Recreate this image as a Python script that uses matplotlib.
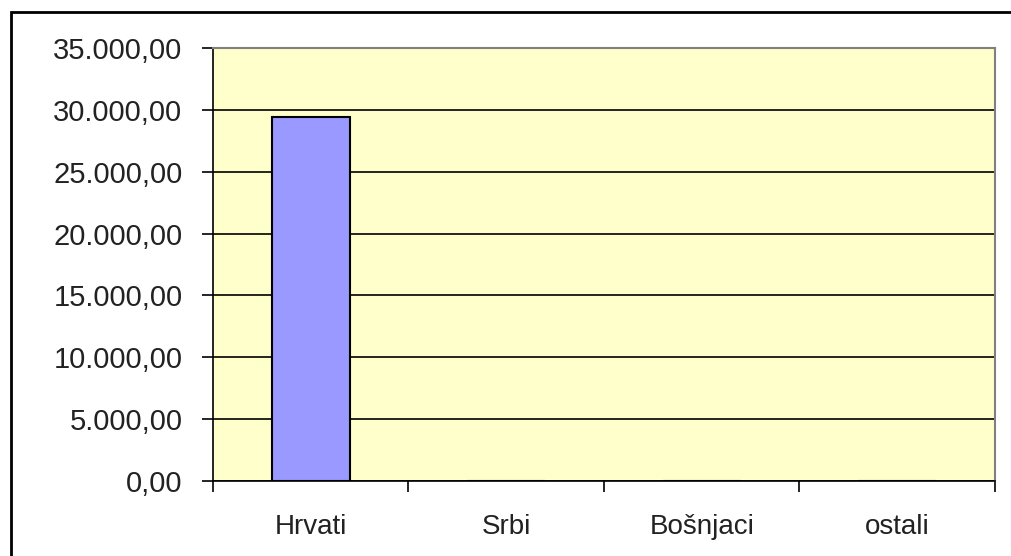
import matplotlib
matplotlib.use("Agg")
import matplotlib.pyplot as plt
from matplotlib.patches import Rectangle
from matplotlib.ticker import FuncFormatter

categories = ["Hrvati", "Srbi", "Bošnjaci", "ostali"]
values = [29450, 0, 0, 0]
y_ticks = [0, 5000, 10000, 15000, 20000, 25000, 30000, 35000]

plt.rcParams['font.family'] = ['Liberation Sans', 'DejaVu Sans']


def hr_fmt(v, pos):
    s = "{:,.2f}".format(v)
    return s.replace(",", "X").replace(".", ",").replace("X", ".")


def main():
    W, H = 1012, 556
    fig = plt.figure(figsize=(W / 100, H / 100), dpi=100)
    ax = fig.add_axes([213 / W, 1 - 481 / H, (995 - 213) / W, (481 - 48) / H])

    # outer chart frame (runs off right and bottom)
    fig.patches.append(Rectangle((11 / W, -0.05), 1.1, 1 - 12 / H + 0.05,
                                 transform=fig.transFigure, fill=False,
                                 edgecolor="black", linewidth=2))

    ax.set_facecolor("#FFFFCC")
    x = range(len(categories))
    ax.bar(x, values, width=0.4, color="#9999FF", edgecolor="black",
           linewidth=1.5, zorder=3)

    ax.set_xlim(-0.5, len(categories) - 0.5)
    ax.set_ylim(0, 35000)
    ax.set_yticks(y_ticks)
    ax.yaxis.set_major_formatter(FuncFormatter(hr_fmt))
    ax.grid(axis="y", color="black", linewidth=1.2, zorder=1)

    ax.set_xticks([i - 0.5 for i in range(len(categories) + 1)])
    ax.set_xticklabels([])
    ax.set_xticks(list(x), minor=True)
    ax.set_xticklabels(categories, minor=True)
    ax.tick_params(axis="x", which="minor", length=0, pad=24, labelsize=20,
                   labelcolor="#222222")
    ax.tick_params(axis="x", which="major", length=8, width=1.2, direction="out")
    ax.tick_params(axis="y", length=8, width=1.2, direction="out",
                   labelsize=21, pad=14, labelcolor="#222222")

    ax.spines["left"].set_color("black")
    ax.spines["bottom"].set_color("black")
    ax.spines["left"].set_linewidth(1.2)
    ax.spines["bottom"].set_linewidth(1.2)
    ax.spines["top"].set_color("#808080")
    ax.spines["right"].set_color("#808080")
    ax.spines["top"].set_linewidth(1.5)
    ax.spines["right"].set_linewidth(1.5)

    fig.savefig("out.png", dpi=100)


if __name__ == '__main__':
    main()
